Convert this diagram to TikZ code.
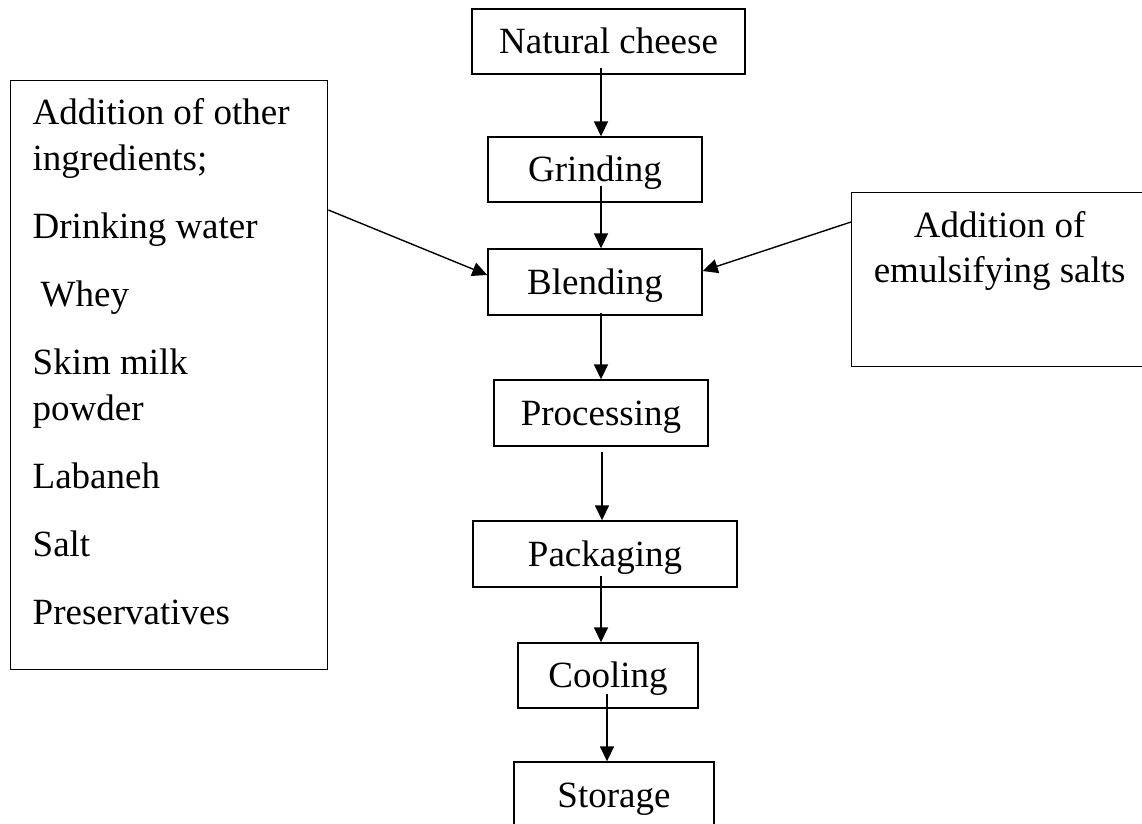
\documentclass[tikz,border=0pt]{standalone}
\usepackage{fontspec}
\setmainfont{Liberation Serif}
\usetikzlibrary{arrows.meta}
\begin{document}
\begin{tikzpicture}[x=1pt,y=1pt,
  box/.style={draw, line width=1.4pt, inner sep=0pt,
    font=\fontsize{37}{44}\selectfont, text height=24.5pt, text depth=0pt},
  bigbox/.style={draw, line width=1.4pt, inner sep=0pt, anchor=north west},
  arr/.style={line width=1.6pt, -{Triangle[length=15pt,width=14pt]}},
  sarr/.style={line width=1.4pt, -{Triangle[length=15pt,width=14pt]}},
]
\useasboundingbox (0,0) rectangle (1142,-823);
\fill[white] (0,0) rectangle (1142,-823);

% main chain
\node[box, minimum width=273pt, minimum height=65pt] (nat)   at (608.5,-41.5) {Natural cheese};
\node[box, minimum width=214pt, minimum height=65pt] (grind) at (595,-169.5)  {Grinding};
\node[box, minimum width=214pt, minimum height=66pt] (blend) at (595,-282)    {Blending};
\node[box, minimum width=214pt, minimum height=66pt] (proc)  at (601,-413)    {Processing};
\node[box, minimum width=264pt, minimum height=66pt] (pack)  at (605,-554)    {Packaging};
\node[box, minimum width=180pt, minimum height=65pt] (cool)  at (608,-675.5)  {Cooling};
\node[box, minimum width=200pt, minimum height=66pt] (stor)  at (614,-795)    {Storage};

% side boxes
\node[bigbox] (ing) at (10,-80) {\begin{minipage}[t][589pt][t]{317pt}%
\fontsize{37}{46}\selectfont\parindent=0pt\leftskip=22pt\parskip=22pt
\rule{0pt}{44pt}Addition of other\newline ingredients;\par
Drinking water\par
\hspace*{8pt}Whey\par
Skim milk\newline powder\par
Labaneh\par
Salt\par
Preservatives\par
\end{minipage}};

\node[bigbox] (emul) at (851,-192) {\begin{minipage}[t][174pt][t]{296pt}%
\centering\fontsize{37}{45}\selectfont
\rule{0pt}{45pt}Addition of\\emulsifying salts\par
\end{minipage}};

% arrow x positions
\coordinate (ca) at (601,0);
\coordinate (cb) at (602,0);
\coordinate (cc) at (607,0);

\draw[arr] ([yshift=7pt]nat.south -| ca)    -- (grind.north -| ca);
\draw[arr] ([yshift=17pt]grind.south -| ca) -- (blend.north -| ca);
\draw[arr] ([yshift=3pt]blend.south -| ca)  -- (proc.north -| ca);
\draw[arr] ([yshift=-5pt]proc.south -| cb)  -- (pack.north -| cb);
\draw[arr] ([yshift=12pt]pack.south -| ca)  -- (cool.north -| ca);
\draw[arr] ([yshift=15pt]cool.south -| cc)  -- (stor.north -| cc);

\draw[sarr] ([yshift=-130pt]ing.north east) -- ([yshift=7pt]blend.west);
\draw[sarr] ([yshift=-30pt]emul.north west) -- ([yshift=11pt]blend.east);
\end{tikzpicture}
\end{document}
